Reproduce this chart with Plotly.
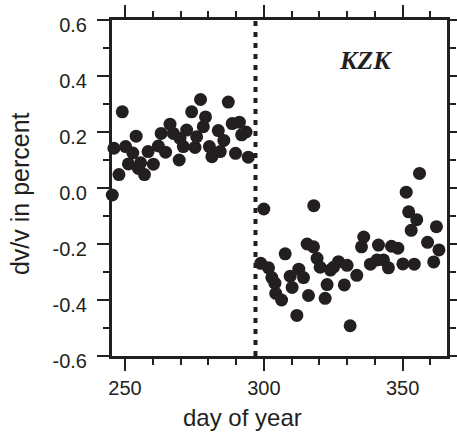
import plotly.graph_objects as go

# Before the event (day of year, dv/v in percent)
day_before = [245.4, 246.0, 247.8, 249.0, 250.2, 251.2, 252.8, 254.0, 254.8, 255.6,
              257.0, 258.3, 260.2, 262.0, 263.0, 264.6, 266.2, 267.4, 269.5, 269.8,
              271.0, 272.2, 274.0, 275.2, 275.8, 277.2, 278.2, 279.0, 280.4, 281.3,
              283.6, 284.3, 285.6, 287.2, 288.6, 289.8, 291.2, 292.0, 293.6, 294.4]
dvv_before = [-0.025, 0.142, 0.048, 0.272, 0.148, 0.086, 0.125, 0.185, 0.070, 0.090,
              0.048, 0.130, 0.085, 0.150, 0.195, 0.128, 0.228, 0.195, 0.100, 0.177,
              0.148, 0.207, 0.272, 0.145, 0.183, 0.316, 0.219, 0.254, 0.148, 0.112,
              0.205, 0.130, 0.170, 0.307, 0.230, 0.124, 0.235, 0.190, 0.200, 0.110]

# After the event
day_after = [298.9, 300.0, 301.7, 302.9, 304.0, 304.3, 306.4, 307.7, 309.5, 310.2,
             311.9, 312.6, 314.3, 315.6, 316.1, 317.9, 318.0, 319.2, 320.3, 322.1,
             322.8, 324.0, 325.1, 326.9, 329.0, 330.0, 331.1, 333.5, 335.2, 336.0,
             338.4, 340.8, 341.3, 343.1, 344.9, 346.0, 348.3, 350.1, 351.3, 352.2,
             353.1, 354.2, 355.1, 356.1, 359.0, 361.2, 362.2, 363.1]
dvv_after = [-0.269, -0.075, -0.285, -0.320, -0.340, -0.376, -0.400, -0.235, -0.315, -0.355,
             -0.455, -0.290, -0.320, -0.200, -0.384, -0.210, -0.063, -0.251, -0.283, -0.394,
             -0.345, -0.293, -0.283, -0.263, -0.346, -0.276, -0.492, -0.312, -0.210, -0.175,
             -0.272, -0.257, -0.204, -0.257, -0.285, -0.208, -0.215, -0.271, -0.015, -0.085,
             -0.151, -0.272, -0.113, 0.052, -0.194, -0.264, -0.138, -0.221]

event_day = 297
x_tickvals = [250, 300, 350]
y_tickvals = [-0.6, -0.4, -0.2, 0.0, 0.2, 0.4, 0.6]
y_ticktext = ["-0.6", "-0.4", "-0.2", "0.0", "0.2", "0.4", "0.6"]
station = "KZK"
x_title = "day of year"
y_title = "dv/v in percent"

ink = "#231f20"

fig = go.Figure()
fig.add_trace(go.Scatter(
    x=day_before + day_after, y=dvv_before + dvv_after, mode="markers",
    marker=dict(size=13, color=ink, line=dict(width=0)),
    cliponaxis=False, showlegend=False))

fig.add_shape(type="line", x0=event_day, x1=event_day, y0=0, y1=1,
              xref="x", yref="paper",
              line=dict(color=ink, width=4, dash="5px,6px"))

fig.add_annotation(x=336.5, y=0.457, xref="x", yref="y",
                   text="<b><i>" + station + "</i></b>",
                   showarrow=False,
                   font=dict(family="Liberation Serif", size=26, color=ink))

# axis titles placed as annotations (the original's x title sits left of centre)
fig.add_annotation(x=0.391, y=-0.183, xref="paper", yref="paper",
                   xanchor="center", yanchor="middle", text=x_title,
                   showarrow=False,
                   font=dict(family="Liberation Sans", size=24, color=ink))
fig.add_annotation(x=-0.2746, y=0.482, xref="paper", yref="paper",
                   xanchor="center", yanchor="middle", text=y_title,
                   textangle=-90, showarrow=False,
                   font=dict(family="Liberation Sans", size=25, color=ink))

axis_common = dict(
    showline=True, linecolor=ink, linewidth=3, mirror="ticks",
    ticks="outside", ticklen=12, tickwidth=1.5, tickcolor=ink,
    showgrid=False, zeroline=False, automargin=False,
    tickfont=dict(family="Liberation Sans", size=20, color=ink),
)

fig.update_xaxes(
    range=[245.3, 366], tickmode="array", tickvals=x_tickvals,
    minor=dict(tickmode="linear", tick0=250, dtick=10, ticklen=6,
               ticks="outside", tickwidth=1.5, tickcolor=ink, showgrid=False),
    **axis_common)
fig.update_yaxes(
    range=[-0.6, 0.6], tickmode="array", tickvals=y_tickvals, ticktext=y_ticktext,
    minor=dict(tickmode="linear", tick0=-0.6, dtick=0.1, ticklen=6,
               ticks="outside", tickwidth=1.5, tickcolor=ink, showgrid=False),
    ticklabelstandoff=6, ticklabelshift=5,
    **axis_common)

fig.update_layout(
    width=457, height=434, autosize=False,
    margin=dict(l=112, r=10, t=20, b=78, autoexpand=False),
    plot_bgcolor="white", paper_bgcolor="white",
)

fig.write_html("out.html", config={"responsive": False})
